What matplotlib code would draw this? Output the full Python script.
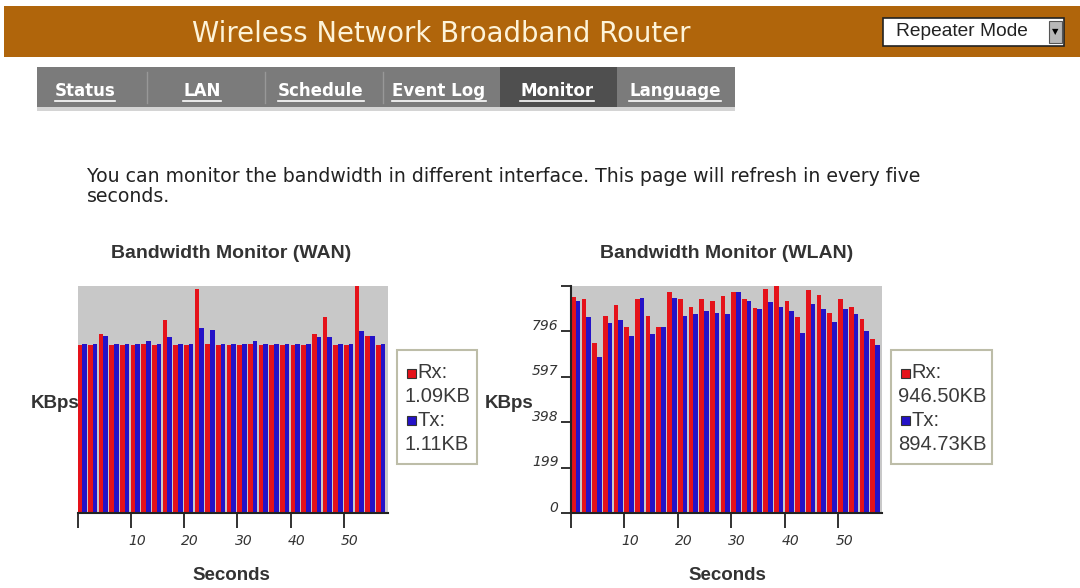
import matplotlib
matplotlib.use('Agg')
import matplotlib.pyplot as plt
import matplotlib.transforms as mtransforms
from matplotlib.patches import Rectangle

# one Rx/Tx pair every two seconds
seconds = [0, 2, 4, 6, 8, 10, 12, 14, 16, 18, 20, 22, 24, 26, 28,
           30, 32, 34, 36, 38, 40, 42, 44, 46, 48, 50, 52, 54, 56]

wan_rx = [1.07, 1.07, 1.14, 1.07, 1.07, 1.07, 1.08, 1.07, 1.23, 1.07,
          1.07, 1.43, 1.08, 1.07, 1.07, 1.07, 1.08, 1.07, 1.07, 1.07,
          1.07, 1.07, 1.14, 1.25, 1.07, 1.07, 1.46, 1.13, 1.07]
wan_tx = [1.08, 1.08, 1.13, 1.08, 1.08, 1.08, 1.10, 1.08, 1.12, 1.08,
          1.08, 1.18, 1.17, 1.08, 1.08, 1.08, 1.10, 1.08, 1.08, 1.08,
          1.08, 1.08, 1.12, 1.12, 1.08, 1.08, 1.16, 1.13, 1.08]

wlan_rx = [947, 936, 743, 863, 909, 816, 936, 863, 816, 969,
           936, 904, 936, 930, 949, 969, 936, 896, 982, 995,
           930, 857, 977, 956, 876, 936, 904, 850, 764]
wlan_tx = [930, 856, 685, 831, 844, 777, 943, 784, 816, 943,
           863, 870, 883, 876, 870, 969, 930, 891, 923, 904,
           883, 790, 917, 891, 837, 891, 870, 797, 737]

x_ticks = [0, 10, 20, 30, 40, 50]
x_ticklabels = ['', '10', '20', '30', '40', '50']
wlan_yticks = [0, 199, 398, 597, 796, 995]
wlan_yticklabels = ['0', '199', '398', '597', '796', '']

wan_legend = ['Rx:', '1.09KB', 'Tx:', '1.11KB']
wlan_legend = ['Rx:', '946.50KB', 'Tx:', '894.73KB']

tabs = ['Status', 'LAN', 'Schedule', 'Event Log', 'Monitor', 'Language']

W, H = 1080, 588
RED = '#e5121a'
BLUE = '#2412c8'
PLOT_BG = '#c8c8c8'
TXT = '#333333'
BAR_W = 0.875


def px_axes(fig, x0, y0, x1, y1):
    return fig.add_axes([x0 / W, 1 - y1 / H, (x1 - x0) / W, (y1 - y0) / H])


def shift(fig, label, dx, dy):
    off = mtransforms.ScaledTranslation(dx / 100, -dy / 100, fig.dpi_scale_trans)
    label.set_transform(label.get_transform() + off)


def draw_chart(fig, page, box, rx, tx, ymax, show_y, title, cx, kbps_x, legend, leg_box):
    x0, y0, x1, y1 = box
    ax = px_axes(fig, x0, y0, x1, y1)
    ax.set_facecolor(PLOT_BG)
    ax.bar(seconds, rx, width=BAR_W, align='edge', color=RED, linewidth=0)
    ax.bar([s + BAR_W for s in seconds], tx, width=BAR_W, align='edge',
           color=BLUE, linewidth=0)
    ax.set_xlim(0, 58.2)
    ax.set_ylim(0, ymax)
    for side in ['top', 'right']:
        ax.spines[side].set_visible(False)
    ax.spines['bottom'].set_color('#222222')
    ax.spines['bottom'].set_linewidth(1.5)
    ax.set_xticks(x_ticks)
    ax.set_xticklabels(x_ticklabels, fontsize=10, style='italic', color=TXT)
    ax.tick_params(axis='x', direction='out', length=11, width=1.3,
                   color='#222222', pad=4)
    for lab in ax.get_xticklabels():
        shift(fig, lab, 6, 0)
    if show_y:
        ax.spines['left'].set_color('#222222')
        ax.spines['left'].set_linewidth(1.5)
        ax.set_yticks(wlan_yticks)
        ax.set_yticklabels(wlan_yticklabels, fontsize=10, style='italic', color=TXT)
        ax.tick_params(axis='y', direction='out', length=7, width=1.3,
                       color='#222222', pad=2)
        for lab in ax.get_yticklabels():
            shift(fig, lab, 0, -7)
    else:
        ax.spines['left'].set_visible(False)
        ax.set_yticks([])

    page.text(cx, 254, title, ha='center', va='center', fontsize=14,
              fontweight='bold', family='Liberation Sans', color=TXT)
    page.text(cx, 576, 'Seconds', ha='center', va='center', fontsize=13.5,
              fontweight='bold', family='Liberation Sans', color=TXT)
    page.text(kbps_x, 404, 'KBps', ha='right', va='center', fontsize=13.5,
              fontweight='bold', family='Liberation Sans', color=TXT)

    # legend box
    lx0, lx1 = leg_box
    page.add_patch(Rectangle((lx0, 350), lx1 - lx0, 114, facecolor='white',
                             edgecolor='#bdbda8', linewidth=1.5))
    rows = [373, 396, 420, 444]
    tx0 = lx0 + 7
    for i, txt in enumerate(legend):
        if i % 2 == 0:
            col = RED if i == 0 else BLUE
            page.add_patch(Rectangle((tx0 + 3, rows[i] - 4), 9, 9, facecolor=col,
                                     edgecolor='#333333', linewidth=0.8))
            page.text(tx0 + 13, rows[i], txt, ha='left', va='center', fontsize=14.5,
                      family='Liberation Sans', color='#3a3a3a')
        else:
            page.text(tx0, rows[i], txt, ha='left', va='center', fontsize=14.5,
                      family='Liberation Sans', color='#3a3a3a')
    return ax


def main():
    fig = plt.figure(figsize=(W / 100, H / 100), dpi=100)
    page = fig.add_axes([0, 0, 1, 1])
    page.set_xlim(0, W)
    page.set_ylim(H, 0)
    page.axis('off')

    # banner
    page.add_patch(Rectangle((4, 6), W - 4, 51, facecolor='#b0650b', linewidth=0))
    page.text(441, 34, 'Wireless Network Broadband Router', ha='center', va='center',
              fontsize=19.8, color='#fdf3d8')
    page.add_patch(Rectangle((883, 18), 181, 28, facecolor='white',
                             edgecolor='#222222', linewidth=1.2))
    page.add_patch(Rectangle((1049, 21), 13, 22, facecolor='#b8b8b8',
                             edgecolor='#555555', linewidth=0.8))
    page.text(1055.5, 32, '\u25bc', ha='center', va='center', fontsize=6, color='black')
    page.text(896, 32, 'Repeater Mode', ha='left', va='center', fontsize=13.8,
              family='Liberation Sans', color='#222222')

    # tab bar
    page.add_patch(Rectangle((37, 106), 698, 5, facecolor='#d4d4d4', linewidth=0))
    page.add_patch(Rectangle((37, 67), 698, 40, facecolor='#7b7b7b', linewidth=0))
    page.add_patch(Rectangle((500, 67), 117, 40, facecolor='#4f4f4f', linewidth=0))
    for sx in [147, 265, 383]:
        page.plot([sx, sx], [72, 103], color='#989898', lw=1)
    tab_x = [85, 202, 321, 439, 557, 675]
    tab_texts = []
    for name, x in zip(tabs, tab_x):
        t = page.text(x, 91, name, ha='center', va='center', fontsize=12,
                      fontweight='bold', color='white')
        tab_texts.append(t)

    page.text(87, 176, 'You can monitor the bandwidth in different interface. '
              'This page will refresh in every five', ha='left', va='center',
              fontsize=13.6, color='#222222')
    page.text(87, 197, 'seconds.', ha='left', va='center', fontsize=13.6,
              color='#222222')

    draw_chart(fig, page, (77.5, 285.7, 387.7, 513.3), wan_rx, wan_tx, 1.45, False,
               'Bandwidth Monitor (WAN)', 231, 79, wan_legend, (397, 477))
    draw_chart(fig, page, (571, 285.7, 882, 513.3), wlan_rx, wlan_tx, 995, True,
               'Bandwidth Monitor (WLAN)', 727, 533, wlan_legend, (891, 992))

    # underline the tab labels
    fig.canvas.draw()
    renderer = fig.canvas.get_renderer()
    for t in tab_texts:
        bb = t.get_window_extent(renderer)
        y = H - bb.y0 + 1
        page.plot([bb.x0, bb.x1], [y, y], color='white', lw=1.2)

    fig.savefig('out.png', dpi=100)


if __name__ == '__main__':
    main()
